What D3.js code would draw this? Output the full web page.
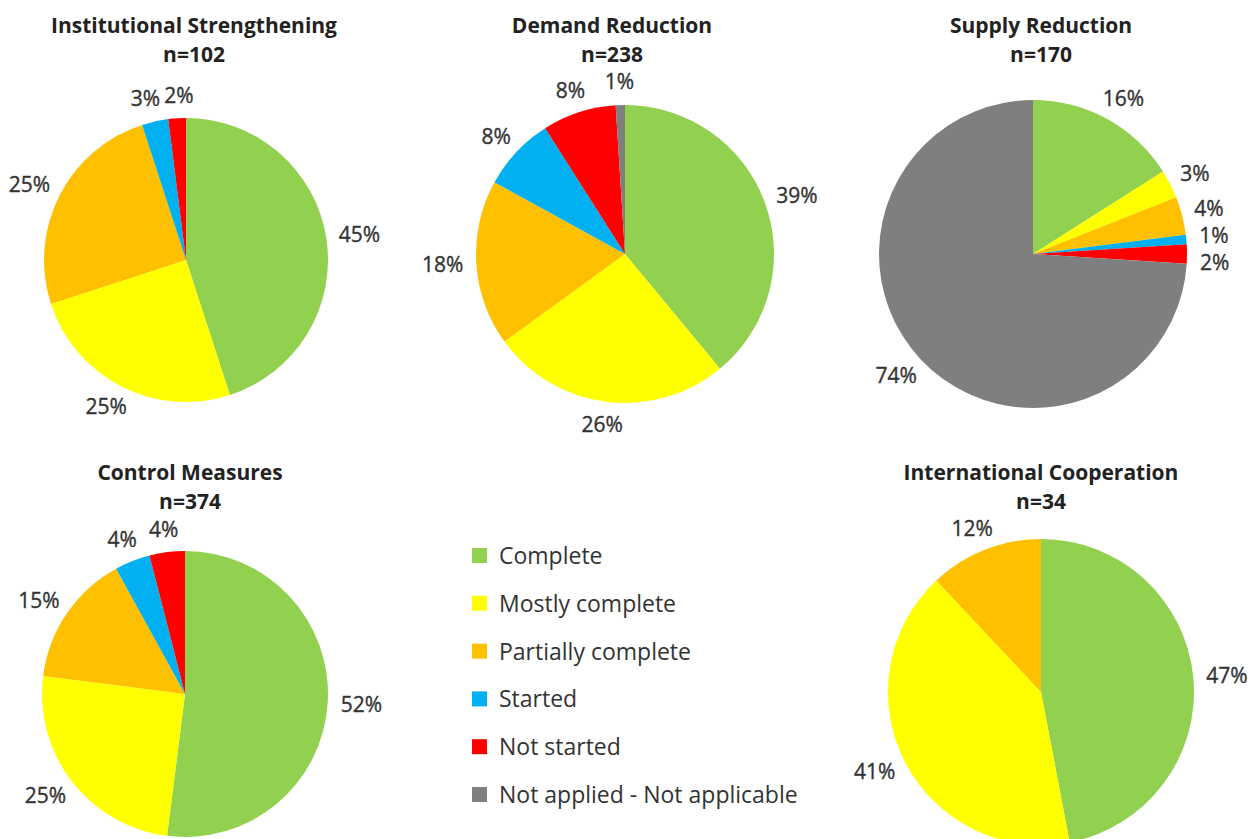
<!DOCTYPE html>
<html>
<head>
<meta charset="utf-8">
<script src="https://cdn.jsdelivr.net/npm/d3@7"></script>
<style>
  body { margin: 0; background: #fff; }
  svg { display: block; }
</style>
</head>
<body>
<svg id="chart" width="1253" height="839"></svg>
<script>
// Data
const categories = ['Complete', 'Mostly complete', 'Partially complete', 'Started', 'Not started', 'Not applied - Not applicable'];
const palette = ['#92D050', '#FFFF00', '#FFC000', '#00B0F0', '#FF0000', '#7F7F7F'];

const titles = ['Institutional Strengthening', 'Demand Reduction', 'Supply Reduction', 'Control Measures', 'International Cooperation'];
const counts = [102, 238, 170, 374, 34];

const institutional = [45, 25, 25, 3, 2, 0];
const demand = [39, 26, 18, 8, 8, 1];
const supply = [16, 3, 4, 1, 2, 74];
const control = [52, 25, 15, 4, 4, 0];
const international = [47, 41, 12, 0, 0, 0];

const series = [institutional, demand, supply, control, international];

// Layout of each panel (pie centre, radius, title centre)
const layout = [
  { cx: 186, cy: 260, r: 142, tx: 194, ty: 33 },
  { cx: 625, cy: 254, r: 149, tx: 612, ty: 33 },
  { cx: 1033, cy: 254, r: 154, tx: 1041, ty: 33 },
  { cx: 185, cy: 694, r: 143, tx: 190, ty: 480 },
  { cx: 1041, cy: 692, r: 153, tx: 1041, ty: 480 }
];

const svg = d3.select('#chart');
svg.append('rect').attr('width', 1253).attr('height', 839).attr('fill', '#fff');

const color = d3.scaleOrdinal().domain(categories).range(palette);
const pie = d3.pie().sort(null).value(d => d.value);

series.forEach((values, i) => {
  const L = layout[i];
  const data = values.map((v, j) => ({ cat: categories[j], value: v }));
  const arcs = pie(data).filter(a => a.data.value > 0);
  const arc = d3.arc().innerRadius(0).outerRadius(L.r);

  // Title
  const title = svg.append('text')
    .attr('x', L.tx)
    .attr('y', L.ty)
    .attr('text-anchor', 'middle')
    .style('font-family', '"Open Sans", sans-serif')
    .style('font-weight', 700)
    .style('font-size', '21px')
    .style('fill', '#222');
  title.append('tspan').attr('x', L.tx).text(titles[i]);
  title.append('tspan').attr('x', L.tx).attr('dy', 29).text('n=' + counts[i]);

  const g = svg.append('g').attr('transform', `translate(${L.cx},${L.cy})`);

  g.selectAll('path')
    .data(arcs)
    .enter().append('path')
    .attr('d', arc)
    .attr('fill', d => color(d.data.cat));

  // Labels, outside end
  const texts = g.selectAll('text.lbl')
    .data(arcs)
    .enter().append('text')
    .attr('class', 'lbl')
    .attr('dy', '0.35em')
    .attr('text-anchor', 'middle')
    .style('font-family', '"Open Sans", sans-serif')
    .style('font-size', '21px')
    .style('fill', '#333')
    .style('stroke', '#333')
    .style('stroke-width', 0.35)
    .text(d => d.data.value + '%');

  const labels = [];
  texts.each(function(a) {
    const mid = (a.startAngle + a.endAngle) / 2;
    const dx = Math.sin(mid), dy = -Math.cos(mid);
    const w = this.getComputedTextLength(), h = 20;
    labels.push({
      node: this, w, h,
      x: dx * (L.r + 13) + dx * w / 2,
      y: dy * (L.r + 13) + dy * h / 2
    });
  });

  // push overlapping labels apart along the axis of smaller overlap
  for (let it = 0; it < 40; it++) {
    for (let a = 0; a < labels.length; a++) {
      for (let b = a + 1; b < labels.length; b++) {
        const A = labels[a], B = labels[b];
        const ox = (A.w + B.w) / 2 + 4 - Math.abs(A.x - B.x);
        const oy = (A.h + B.h) / 2 + 7 - Math.abs(A.y - B.y);
        if (ox > 0 && oy > 0) {
          if (ox < oy) {
            const s = A.x < B.x ? -1 : 1;
            A.x += s * ox / 2; B.x -= s * ox / 2;
          } else {
            // move the later (clockwise) label most
            const s = A.y < B.y ? -1 : 1;
            A.y += s * oy * 0.3; B.y -= s * oy * 0.7;
          }
        }
      }
    }
  }

  labels.forEach(l => d3.select(l.node).attr('x', l.x).attr('y', l.y));
});

// Legend
const legend = svg.append('g').attr('transform', 'translate(472,548)');
const rows = legend.selectAll('g')
  .data(categories)
  .enter().append('g')
  .attr('transform', (d, i) => `translate(0,${i * 47.8})`);

rows.append('rect')
  .attr('width', 15)
  .attr('height', 15)
  .attr('fill', d => color(d));

rows.append('text')
  .attr('x', 27)
  .attr('y', 16)
  .style('font-family', '"Open Sans", sans-serif')
  .style('font-size', '23px')
  .style('fill', '#333')
  .text(d => d);
</script>
</body>
</html>
